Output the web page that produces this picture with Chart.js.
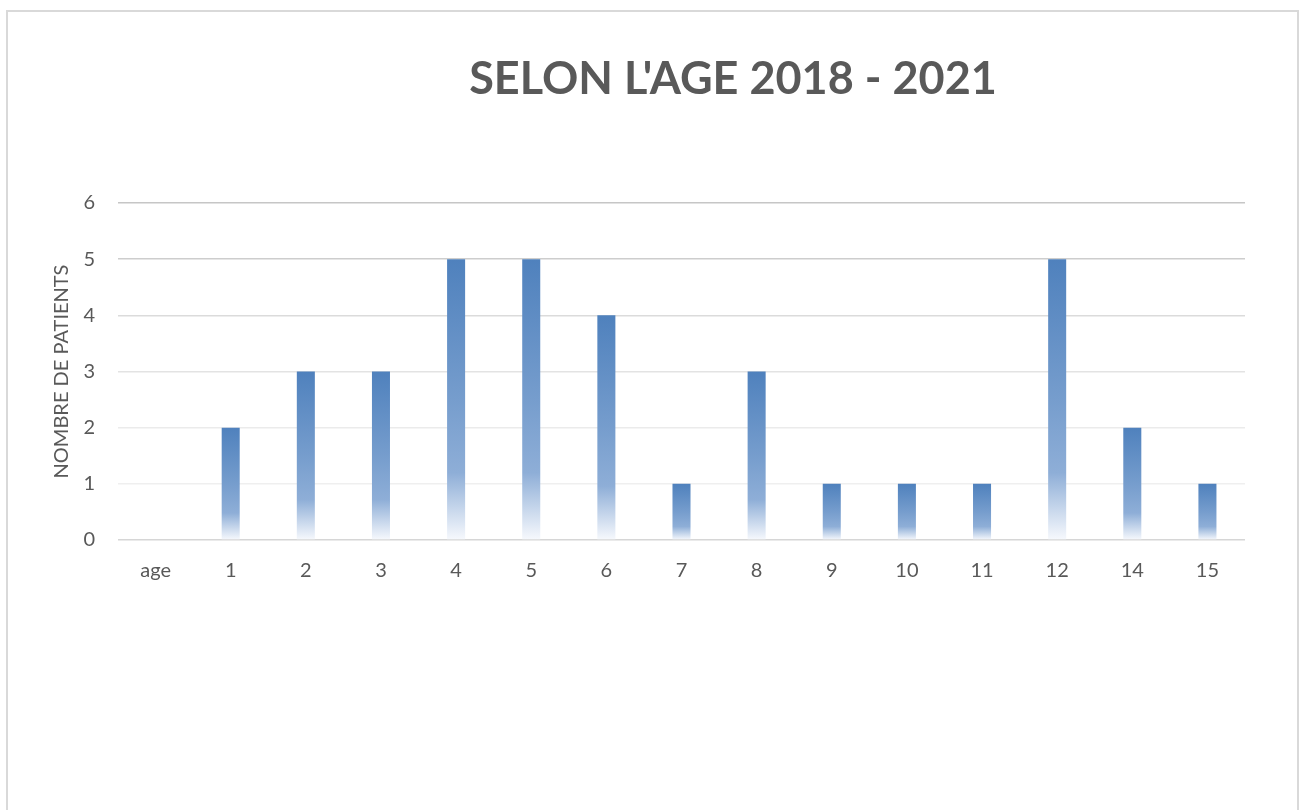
<!DOCTYPE html>
<html>
<head>
<meta charset="utf-8">
<script src="https://cdn.jsdelivr.net/npm/chart.js@4.4.1/dist/chart.umd.min.js"></script>
<style>
  html, body { margin: 0; padding: 0; background: #fff; }
  #wrap { position: relative; width: 1306px; height: 810px; overflow: hidden; }
  #frame { position: absolute; left: 6px; top: 10px; width: 1289px; height: 830px; border: 2px solid #d9d9d9; pointer-events: none; }
  canvas { position: absolute; left: 0; top: 0; }
</style>
</head>
<body>
<div id="wrap">
  <canvas id="c" width="1306" height="810"></canvas>
  <div id="frame"></div>
</div>
<script>
const chartTitle = "SELON L'AGE 2018 - 2021";
const yAxisTitle = "NOMBRE DE PATIENTS";
const categories = ["age", "1", "2", "3", "4", "5", "6", "7", "8", "9", "10", "11", "12", "14", "15"];
const patients = [null, 2, 3, 3, 5, 5, 4, 1, 3, 1, 1, 1, 5, 2, 1];
const yTicks = [0, 1, 2, 3, 4, 5, 6];

const gridColors = {0: "#d6d6d6", 1: "#efefef", 2: "#ebebeb", 3: "#e3e3e3", 4: "#dbdbdb", 5: "#cdcdcd", 6: "#c6c6c6"};
const FONT = "Lato, 'Open Sans', sans-serif";
const TITLE_CENTER_X = 733;

function barGradient(ctx) {
  const chart = ctx.chart;
  if (!chart.chartArea || ctx.type !== 'data') return "#4f81bd";
  const v = ctx.raw;
  if (v === null || v === undefined) return "#4f81bd";
  const ys = chart.scales.y;
  const top = ys.getPixelForValue(v);
  const bottom = ys.getPixelForValue(0);
  const g = chart.ctx.createLinearGradient(0, top, 0, bottom);
  g.addColorStop(0, "#4f81bd");
  g.addColorStop(0.5, "#769dcd");
  g.addColorStop(0.76, "#8eaed7");
  g.addColorStop(1, "#f7f9fd");
  return g;
}

const titleShift = {
  id: 'titleShift',
  afterLayout(chart) {
    const tb = chart.titleBlock;
    if (!tb) return;
    const w = tb.right - tb.left;
    tb.left = TITLE_CENTER_X - w / 2;
    tb.right = TITLE_CENTER_X + w / 2;
  }
};

new Chart(document.getElementById('c'), {
  type: 'bar',
  data: {
    labels: categories,
    datasets: [{
      data: patients,
      backgroundColor: barGradient,
      borderWidth: 0,
      barPercentage: 0.48,
      categoryPercentage: 0.5
    }]
  },
  plugins: [titleShift],
  options: {
    responsive: false,
    animation: false,
    devicePixelRatio: 1,
    layout: { padding: { left: 40, right: 61, top: 0, bottom: 0 } },
    plugins: {
      legend: { display: false },
      tooltip: { enabled: false },
      title: {
        display: true,
        text: chartTitle,
        color: "#595959",
        font: { family: FONT, size: 45, weight: 'bold' },
        padding: { top: 52, bottom: 97 }
      }
    },
    scales: {
      x: {
        grid: { display: false, drawTicks: false },
        border: { display: false },
        ticks: { color: "#595959", font: { family: FONT, size: 20 }, padding: 19, maxRotation: 0 },
        afterFit: (s) => { s.height = 270; }
      },
      y: {
        min: 0, max: 6,
        afterBuildTicks: (s) => { s.ticks = yTicks.map(v => ({ value: v })); },
        grid: {
          drawTicks: false,
          lineWidth: 1.5,
          color: (c) => gridColors[c.tick ? c.tick.value : 0] || "#e0e0e0"
        },
        border: { display: false },
        ticks: { color: "#595959", font: { family: FONT, size: 20 }, padding: 23 },
        title: {
          display: true,
          text: yAxisTitle,
          color: "#595959",
          font: { family: FONT, size: 20 },
          padding: { top: 10, bottom: 0 }
        },
        afterFit: (s) => { s.width = 78; }
      }
    }
  }
});
</script>
</body>
</html>
